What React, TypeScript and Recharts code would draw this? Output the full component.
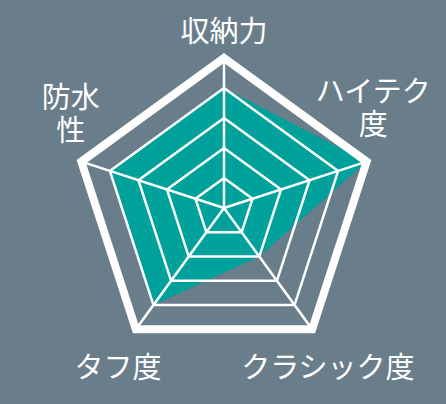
import { RadarChart, Radar, PolarGrid, PolarAngleAxis, PolarRadiusAxis } from 'recharts'

// categories clockwise from the top
const categories = ['収納力', 'ハイテク度', 'クラシック度', 'タフ度', '防水性']
const scores = [4, 5, 2, 4, 4]
// how each category label is broken into lines
const labelLines = [['収納力'], ['ハイテク', '度'], ['クラシック度'], ['タフ度'], ['防水', '性']]
const maxScore = 5

const data = categories.map((name, i) => ({ name, score: scores[i] }))

const W = 446
const H = 404
const CX = 224
const CY = 208
const R = 150

// label nudges relative to where recharts puts the tick
const labelOffsets = [
  { dx: 0, dy: -18 },
  { dx: -1, dy: -67 },
  { dx: 11, dy: 32 },
  { dx: -13, dy: 32 },
  { dx: -3, dy: -61 },
]

const innerRings = [1, 2, 3, 4].map((v) => (R * v) / maxScore)

function LabelTick(props: any) {
  const { x, y, index } = props
  const off = labelOffsets[index] || { dx: 0, dy: 0 }
  const lines = labelLines[index] || [props.payload.value]
  return (
    <g>
      {lines.map((l: string, i: number) => (
        <text
          key={i}
          x={x + off.dx}
          y={y + off.dy + 10 + i * 33}
          textAnchor="middle"
          fill="#ffffff"
          fontSize={29}
          fontFamily='"Noto Sans CJK JP", "Noto Sans", sans-serif'
        >
          {l}
        </text>
      ))}
    </g>
  )
}

export default function App() {
  return (
    <div style={{ position: 'fixed', left: 0, top: 0, width: W, height: H, background: '#6a7d8b' }}>
      <RadarChart
        width={W}
        height={H}
        data={data}
        cx={CX}
        cy={CY}
        outerRadius={R}
        margin={{ top: 0, right: 0, bottom: 0, left: 0 }}
      >
        <PolarRadiusAxis domain={[0, maxScore]} tick={false} axisLine={false} tickCount={6} />
        <PolarAngleAxis dataKey="name" tick={<LabelTick />} tickLine={false} axisLine={false} />
        <Radar
          dataKey="score"
          fill="#00a19b"
          fillOpacity={1}
          stroke="none"
          isAnimationActive={false}
        />
        <PolarGrid
          gridType="polygon"
          polarRadius={innerRings}
          stroke="#ffffff"
          strokeWidth={2.5}
          strokeOpacity={1}
          zIndex={700}
        />
        <PolarGrid
          gridType="polygon"
          polarRadius={[R]}
          radialLines={false}
          stroke="#ffffff"
          strokeWidth={8}
          strokeOpacity={1}
          strokeLinejoin="miter"
          zIndex={700}
        />
      </RadarChart>
    </div>
  )
}
